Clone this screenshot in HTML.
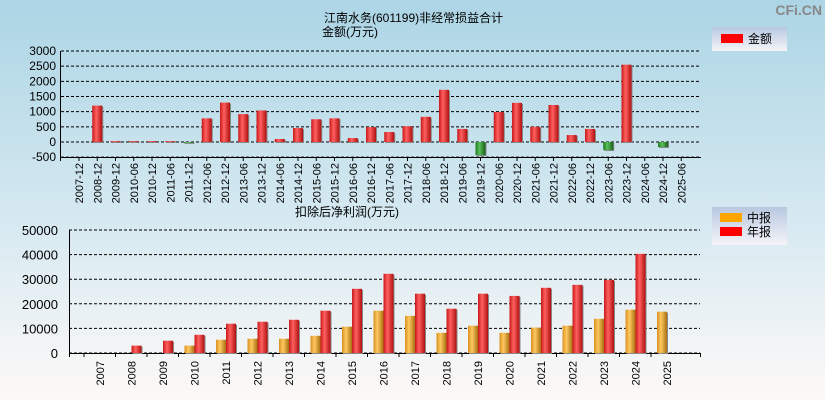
<!DOCTYPE html>
<html><head><meta charset="utf-8"><style>
body{margin:0;width:825px;height:400px;overflow:hidden;font-family:"Liberation Sans","Noto Sans CJK SC",sans-serif}
</style></head><body>
<svg width="825" height="400" xmlns="http://www.w3.org/2000/svg" style="font-family:'Liberation Sans','Noto Sans CJK SC',sans-serif">
<defs>
<linearGradient id="bg" x1="0" y1="0" x2="0" y2="1"><stop offset="0" stop-color="#acd5e5"/><stop offset="0.55" stop-color="#d6e9f1"/><stop offset="1" stop-color="#fdf9f7"/></linearGradient>
<linearGradient id="gr" x1="0" x2="1"><stop offset="0" stop-color="#c81818"/><stop offset="0.4" stop-color="#ff6060"/><stop offset="1" stop-color="#b01010"/></linearGradient>
<linearGradient id="gg" x1="0" x2="1"><stop offset="0" stop-color="#1a7a1a"/><stop offset="0.4" stop-color="#5cbf5c"/><stop offset="1" stop-color="#156015"/></linearGradient>
<linearGradient id="go" x1="0" x2="1"><stop offset="0" stop-color="#d89020"/><stop offset="0.4" stop-color="#ffc860"/><stop offset="1" stop-color="#a87010"/></linearGradient>
<linearGradient id="lg" x1="0" y1="0" x2="0" y2="1"><stop offset="0" stop-color="#b8c8e0"/><stop offset="1" stop-color="#f4f4f8"/></linearGradient>
</defs>
<rect width="825" height="400" fill="url(#bg)"/>
<text x="822" y="15" text-anchor="end" font-size="14" font-weight="bold" fill="#888">CFi.CN</text>
<text x="324" y="22" font-size="12">江南水务(601199)非经常损益合计</text>
<text x="322" y="36" font-size="12">金额(万元)</text>
<g><rect x="712" y="27" width="75" height="24" fill="url(#lg)"/><rect x="721" y="34" width="22" height="9" fill="#f00"/><text x="748" y="43" font-size="12">金额</text></g>
<text x="295" y="216" font-size="12">扣除后净利润(万元)</text>
<g><rect x="712" y="207" width="75" height="38" fill="url(#lg)"/><rect x="720" y="213" width="22" height="9" fill="#ffa500"/><text x="747" y="222" font-size="12">中报</text><rect x="720" y="227" width="22" height="9" fill="#f00"/><text x="747" y="236" font-size="12">年报</text></g>
<g id="top"></g><g id="bot"></g>
</svg>
<script>
const topCats=["2007-12","2008-12","2009-12","2010-06","2010-12","2011-06","2011-12","2012-06","2012-12","2013-06","2013-12","2014-06","2014-12","2015-06","2015-12","2016-06","2016-12","2017-06","2017-12","2018-06","2018-12","2019-06","2019-12","2020-06","2020-12","2021-06","2021-12","2022-06","2022-12","2023-06","2023-12","2024-06","2024-12","2025-06"];
const topVals=[0,1200,30,30,30,30,-30,780,1300,920,1040,100,460,750,780,130,490,330,520,830,1720,430,-430,990,1290,500,1220,230,430,-265,2550,0,-165,0];
const topTicks=[3000,2500,2000,1500,1000,500,0,-500];
const years=["2007","2008","2009","2010","2011","2012","2013","2014","2015","2016","2017","2018","2019","2020","2021","2022","2023","2024","2025"];
const midVals=[null,null,null,3000,5400,5800,5800,7000,10700,17200,15100,8200,11100,8200,10300,11100,13900,17600,16800];
const annVals=[null,3000,5000,7400,11900,12700,13500,17200,26100,32200,24100,18000,24100,23200,26500,27700,29700,40300,null];
const botTicks=[50000,40000,30000,20000,10000,0];
const NS="http://www.w3.org/2000/svg";
function mk(p,t,a){const e=document.createElementNS(NS,t);for(const k in a)e.setAttribute(k,a[k]);p.appendChild(e);return e;}
const T=document.getElementById('top');
const ty=v=>142-v*(91/3000);
const tx=i=>79+i*18.25;
for(const t of topTicks){
 const l=mk(T,'line',{x1:61,x2:700,y1:ty(t),y2:ty(t),stroke:'#000','stroke-dasharray':'3,2','stroke-width':1});
 
 
 const tt=mk(T,'text',{x:56,y:ty(t)+4,'text-anchor':'end','font-size':12});tt.textContent=t;
 
 
}
mk(T,'line',{x1:60.5,x2:60.5,y1:51,y2:161,stroke:'#000'});
mk(T,'line',{x1:60,x2:701,y1:157.5,y2:157.5,stroke:'#000'});
topCats.forEach((c,i)=>{
 const x=tx(i);
 mk(T,'line',{x1:x,x2:x,y1:157,y2:161,stroke:'#000'});
 const tt=mk(T,'text',{transform:`translate(${x+4},163) rotate(-90)`,'text-anchor':'end','font-size':11});tt.textContent=c;
 
 
 const v=topVals[i]; if(!v) return;
 const y0=ty(Math.max(v,0)),h=Math.abs(ty(v)-ty(0));
 mk(T,'rect',{x:x-4,y:y0+1,width:10,height:h,fill:'#888'});
 const b=mk(T,'rect',{x:x-5,y:y0,width:10,height:h,fill:v>0?'url(#gr)':'url(#gg)'});
 
 
});
const B=document.getElementById('bot');
const by=v=>353-v*(123/50000);
const bx=i=>100+i*31.5;
for(const t of botTicks){
 const l=mk(B,'line',{x1:69,x2:700,y1:by(t),y2:by(t),stroke:'#000','stroke-dasharray':'3,2'});
 
 
 const tt=mk(B,'text',{x:58,y:by(t)+5,'text-anchor':'end','font-size':13});tt.textContent=t;
 
 
}
mk(B,'line',{x1:69.5,x2:69.5,y1:230,y2:357,stroke:'#000'});
mk(B,'line',{x1:69,x2:701,y1:353.5,y2:353.5,stroke:'#000'});
years.forEach((yr,i)=>{
 const x=bx(i);
 mk(B,'line',{x1:x-16,x2:x-16,y1:353,y2:357,stroke:'#000'});
 const tt=mk(B,'text',{transform:`translate(${x+4},361) rotate(-90)`,'text-anchor':'end','font-size':11});tt.textContent=yr;
 
 
 [[midVals[i],-10,'url(#go)','mid'],[annVals[i],0,'url(#gr)','annual']].forEach(([v,o,f,n])=>{
  if(v==null) return;
  mk(B,'rect',{x:x+o+1,y:by(v)+1,width:10,height:by(0)-by(v),fill:'#888'});
  const b=mk(B,'rect',{x:x+o,y:by(v),width:10,height:by(0)-by(v),fill:f});
  
  
 });
});
mk(B,'line',{x1:700.5,x2:700.5,y1:353,y2:357,stroke:'#000'});
</script>
</body></html>
